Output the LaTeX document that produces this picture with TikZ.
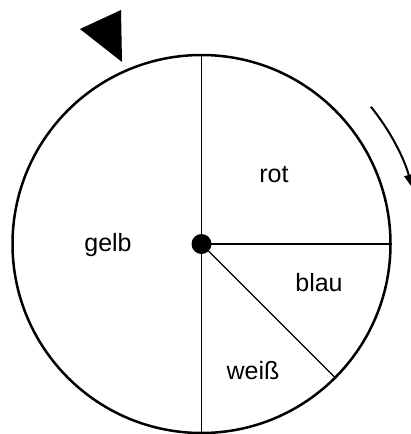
\documentclass[tikz,border=0pt]{standalone}
\usepackage{fontspec}
\setmainfont{Liberation Sans}
\usetikzlibrary{arrows.meta}
\begin{document}
\begin{tikzpicture}[x=1pt,y=-1pt,
  rim/.style={draw,circle,line width=2.5pt,minimum size=378pt,inner sep=0pt},
  divider/.style={line width=1.2pt},
  hub/.style={circle,fill=black,minimum size=20pt,inner sep=0pt},
  lbl/.style={font=\fontsize{25}{29}\selectfont,anchor=base,inner sep=0pt},
  turn/.style={line width=2pt,-{Triangle[length=13pt,width=9pt]}}]
\useasboundingbox (0,0) rectangle (411,434);
\node[rim] (wheel) at (201.5,244) {};
\draw[divider] (wheel.north) -- (wheel.south);
\draw[divider] (wheel.center) -- (wheel.east);
\draw[divider] (wheel.center) -- (wheel.-45);
\node[hub] (hub) at (wheel.center) {};
\node[lbl] (rot) at (274,182) {rot};
\node[lbl] (gelb) at (108,251) {gelb};
\node[lbl] (blau) at (319,291) {blau};
\node[lbl] (weiss) at (253,379) {weiß};
\fill (80,29) -- (121,10) -- (122,62) -- cycle;
\draw[turn] ([shift={(-39:218)}]wheel.center) arc[start angle=-39,end angle=-15,radius=218];
\end{tikzpicture}
\end{document}
